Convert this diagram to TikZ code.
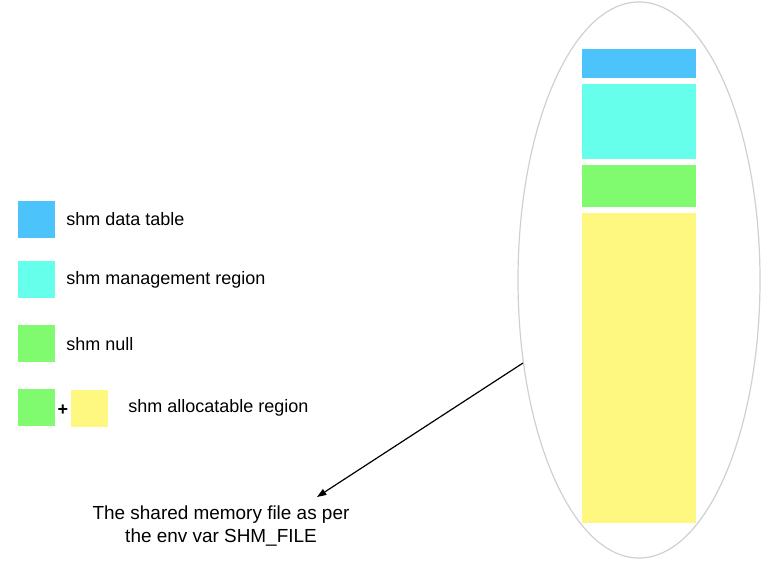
\documentclass[tikz,border=0pt]{standalone}
\usepackage{fontspec}
\setmainfont{Liberation Sans}
\usetikzlibrary{arrows.meta,shapes.geometric}
\definecolor{cblue}{RGB}{77,195,251}
\definecolor{ccyan}{RGB}{102,255,236}
\definecolor{cgreen}{RGB}{128,250,110}
\definecolor{cyellow}{RGB}{255,248,128}
\definecolor{cgray}{RGB}{208,208,208}
\begin{document}
\begin{tikzpicture}[x=0.75pt,y=-0.75pt,
  sq/.style={draw=none,minimum width=27.75pt,minimum height=27.75pt,inner sep=0pt},
  lbl/.style={anchor=west,inner sep=0pt,font=\fontsize{13.5}{16}\selectfont},
  seg/.style={draw=none,inner sep=0pt},
  every node/.style={text=black}]
\useasboundingbox (0,0) rectangle (762,563);
% ellipse
\node[ellipse,draw=cgray,line width=0.9pt,inner sep=0pt,minimum width=181.5pt,minimum height=417pt] (ell) at (639,280) {};
% segments
\fill[cblue]   (582,49)  rectangle (696,78);
\fill[ccyan]   (582,84)  rectangle (696,159);
\fill[cgreen]  (582,165) rectangle (696,207);
\fill[cyellow] (582,213) rectangle (696,523);
% legend
\node[sq,fill=cblue]  (l1) at (36.5,219.5) {};
\node[sq,fill=ccyan]  (l2) at (36.5,279) {};
\node[sq,fill=cgreen] (l3) at (36.5,343.5) {};
\node[sq,fill=cgreen] (l4) at (36.5,407.5) {};
\node[sq,fill=cyellow] (l5) at (89.5,408) {};
\node[inner sep=0pt,font=\fontsize{13.5}{16}\selectfont\bfseries] (plus) at (63,410) {+};
\node[lbl] (t1) at (66,219) {shm data table};
\node[lbl] (t2) at (66,280) {shm management region};
\node[lbl] (t3) at (66,344) {shm null};
\node[lbl] (t4) at (128,408) {shm allocatable region};
% caption
\node[align=center,inner sep=0pt,font=\fontsize{14.2}{16.8}\selectfont] (cap) at (221,526) {The shared memory file as per\\the env var SHM\_FILE};
\coordinate (a) at (523,363);
\coordinate (b) at (317,497);
\draw[-{Triangle[length=7pt,width=5pt]},line width=0.9pt] (a) -- (b);
\end{tikzpicture}
\end{document}
